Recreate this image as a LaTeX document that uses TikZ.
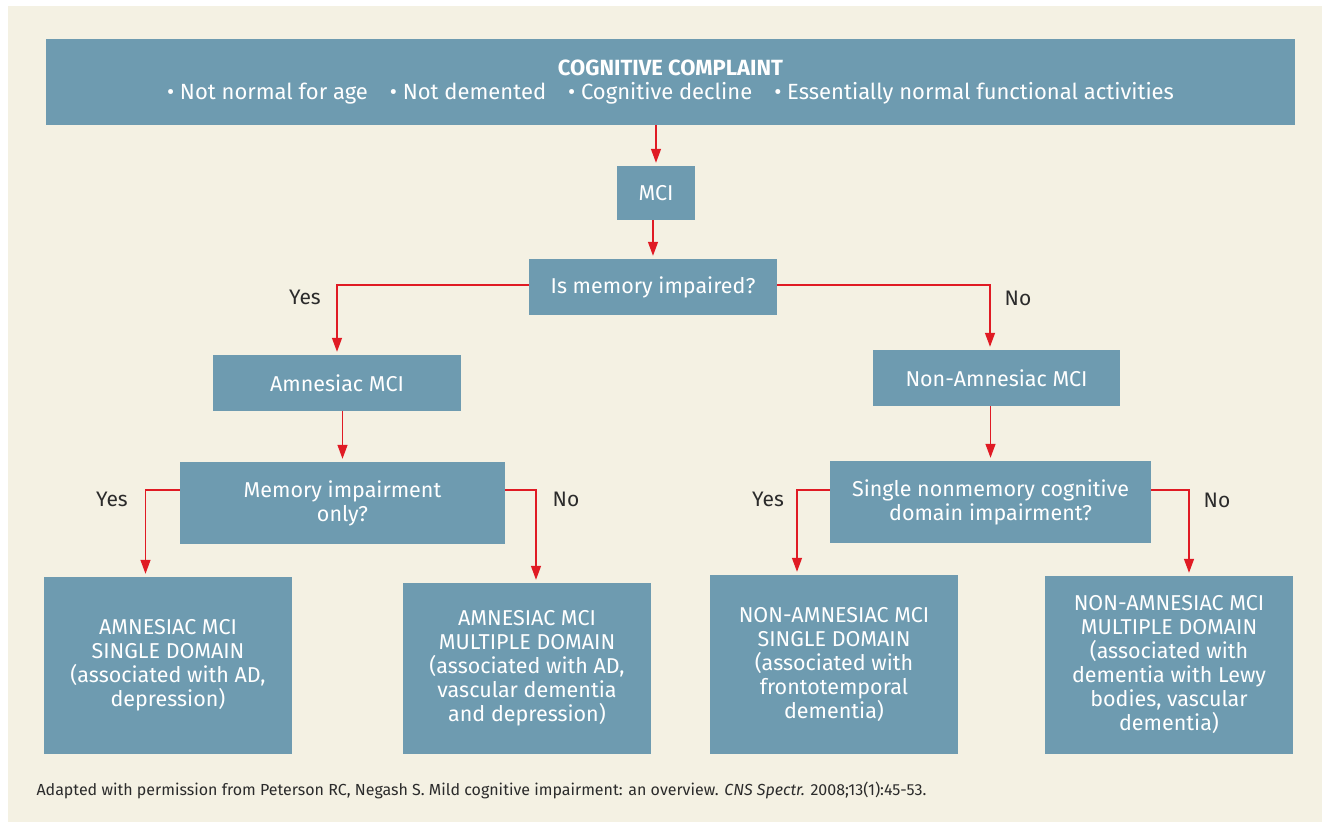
\documentclass[tikz,border=0pt]{standalone}
\usepackage{fontspec}
\setmainfont{Fira Sans}
\usepackage{tikz}
\usetikzlibrary{arrows.meta}
\definecolor{boxblue}{HTML}{6E9BB0}
\definecolor{cream}{HTML}{F4F1E3}
\definecolor{arrowred}{HTML}{E01B24}
\definecolor{labelgray}{HTML}{2B2B2B}

\begin{document}
\begin{tikzpicture}[x=1pt,y=-1pt]
\tikzset{>={Triangle[width=10pt,length=14pt]}}
\tikzstyle{box}=[rectangle,fill=boxblue,text=white,align=center,inner sep=0pt,font=\fontsize{21.5}{24}\selectfont]
\tikzstyle{arr}=[->,arrowred,line width=1.3pt,shorten >=3pt]
\tikzstyle{answer}=[text=labelgray,font=\fontsize{21}{24}\selectfont]

\useasboundingbox (0,0) rectangle (1322,822);
\fill[white] (0,0) rectangle (1322,822);
\fill[cream] (8,6) rectangle (1322,822);

\node[box,minimum width=1249pt,minimum height=86pt,font=\fontsize{22}{24}\selectfont](top) at (670.5,82){\textbf{COGNITIVE COMPLAINT}\\ \textbullet\ Not normal for age\quad \textbullet\ Not demented\quad \textbullet\ Cognitive decline\quad \textbullet\ Essentially normal functional activities};
\node[box,minimum width=78pt,minimum height=54pt](mci) at (656,193){MCI};
\node[box,minimum width=248pt,minimum height=56pt](ismem) at (653,287){Is memory impaired?};
\node[box,minimum width=248pt,minimum height=56pt](amn) at (337,383){Amnesiac MCI};
\node[box,minimum width=247pt,minimum height=56pt](nonamn) at (996.5,378){Non-Amnesiac MCI};
\node[box,minimum width=325pt,minimum height=82pt](mem) at (342.5,503){Memory impairment\\ only?};
\node[box,minimum width=321pt,minimum height=82pt](single) at (990.5,502){Single nonmemory cognitive\\ domain impairment?};
\node[box,minimum width=248pt,minimum height=177pt](b1) at (168,665.5){AMNESIAC MCI\\ SINGLE DOMAIN\\ (associated with AD,\\ depression)};
\node[box,minimum width=248pt,minimum height=171pt](b2) at (527,668.5){AMNESIAC MCI\\ MULTIPLE DOMAIN\\ (associated with AD,\\ vascular dementia\\ and depression)};
\node[box,minimum width=248pt,minimum height=179pt](b3) at (834,664.5){NON-AMNESIAC MCI\\ SINGLE DOMAIN\\ (associated with\\ frontotemporal\\ dementia)};
\node[box,minimum width=248pt,minimum height=178pt](b4) at (1169,665){NON-AMNESIAC MCI\\ MULTIPLE DOMAIN\\ (associated with\\ dementia with Lewy\\ bodies, vascular\\ dementia)};

\node[answer](yes1) at (305,297){Yes};
\node[answer](no1) at (1018,298){No};
\node[answer](yes2) at (112,499){Yes};
\node[answer](no2) at (566,499){No};
\node[answer](yes3) at (768,499){Yes};
\node[answer](no3) at (1217,500){No};

\draw[arr] (mci.north |- top.south) -- (mci.north);
\draw[arr] (ismem.north |- mci.south) -- (ismem.north);
\draw[arr] ([yshift=2pt]ismem.west) -| (amn.north);
\draw[arr] ([yshift=2pt]ismem.east) -| ([xshift=-6.5pt]nonamn.north);
\draw[arr] (mem.north |- amn.south) -- (mem.north);
\draw[arr] (single.north |- nonamn.south) -- (single.north);
\draw[arr] ([yshift=13pt]mem.west) -| ([xshift=-22.5pt]b1.north);
\draw[arr] ([yshift=13pt]mem.east) -| ([xshift=9pt]b2.north);
\draw[arr] ([yshift=12pt]single.west) -| ([xshift=-37pt]b3.north);
\draw[arr] ([yshift=12pt]single.east) -| ([xshift=20pt]b4.north);

\node[anchor=west,text=labelgray,font=\fontsize{16}{18}\selectfont](source) at (33,790){Adapted with permission from Peterson RC, Negash S. Mild cognitive impairment: an overview. \textit{CNS Spectr.} 2008;13(1):45-53.};
\end{tikzpicture}
\end{document}
